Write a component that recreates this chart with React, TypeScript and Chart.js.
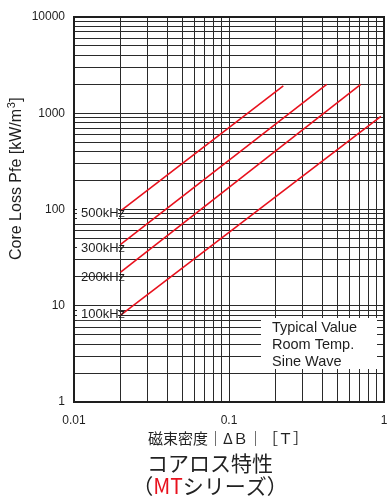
import React, { useEffect, useRef } from "react";
import { Chart, registerables } from "chart.js";

Chart.register(...registerables);

// Core loss curves: start/end points of each frequency line (B in T, Pfe in kW/m3)
const freqLabels = ["500kHz", "300kHz", "200kHz", "100kHz"];
const bStart = [0.02, 0.02, 0.02, 0.02];
const bEnd = [0.224, 0.427, 0.708, 0.955];
const pfeStart = [97, 43.5, 22.3, 8.0];
const pfeEnd = [1920, 2000, 2000, 930];

// Axis tick labels (only decades are labelled)
const xTickLabels = ["0.01", "0.1", "1"];
const yTickLabels = ["1", "10", "100", "1000", "10000"];
const xDecades = [-2, -1];
const yDecades = [0, 1, 2, 3];

const conditionLines = ["Typical Value", "Room Temp.", "Sine Wave"];
const yAxisTitle = "Core Loss Pfe [kW/m";
const xAxisTitle = "磁束密度｜ΔＢ｜［Ｔ］";
const chartTitle = "コアロス特性";
const seriesName = "MT";
const seriesSuffix = "シリーズ";

const RED = "#e8111d";
const INK = "#1e1e1e";
const LATIN = "'Liberation Sans', Arial, sans-serif";
const CJK = "'Noto Sans CJK JP', sans-serif";

// every 1..9 x 10^n value across the given decades, plus the closing decade
function logGrid(decades: number[]) {
  const vals: number[] = [];
  decades.forEach((e) => {
    for (let m = 1; m <= 9; m++) vals.push(parseFloat((m * Math.pow(10, e)).toPrecision(6)));
  });
  const last = decades[decades.length - 1] + 1;
  vals.push(parseFloat(Math.pow(10, last).toPrecision(6)));
  return vals;
}

function labelFor(value: number, labels: string[]) {
  const hit = labels.find((l) => Math.abs(parseFloat(l) - value) < 1e-9 * Math.max(1, value));
  return hit ?? "";
}

// vertical nudge of each frequency label from its curve's start point
const labelOffsetsPx = [3, 4, 5, -1];
const labelHasBackground = [true, true, false, true];

const decorPlugin = {
  id: "decor",
  beforeDatasetsDraw(chart: any) {
    const { ctx, chartArea } = chart;
    const yS = chart.scales.y;
    ctx.save();
    ctx.fillStyle = "#ffffff";
    freqLabels.forEach((_, i) => {
      if (!labelHasBackground[i]) return;
      const cy = yS.getPixelForValue(pfeStart[i]) + labelOffsetsPx[i];
      ctx.fillRect(chartArea.left + 3, cy - 6, 41, 12);
    });
    // conditions box
    ctx.fillRect(261, 318, 116, 51);
    ctx.restore();
  },
  afterDraw(chart: any) {
    const { ctx, chartArea } = chart;
    const yS = chart.scales.y;
    ctx.save();
    // plot frame
    ctx.strokeStyle = INK;
    ctx.lineWidth = 2;
    ctx.strokeRect(chartArea.left, chartArea.top, chartArea.right - chartArea.left, chartArea.bottom - chartArea.top);

    // frequency labels
    ctx.fillStyle = INK;
    ctx.font = `13px ${LATIN}`;
    ctx.textAlign = "left";
    ctx.textBaseline = "middle";
    freqLabels.forEach((t, i) => {
      const cy = yS.getPixelForValue(pfeStart[i]) + labelOffsetsPx[i];
      ctx.fillText(t, chartArea.left + 7, cy);
    });

    // measuring conditions
    ctx.font = `14.5px ${LATIN}`;
    conditionLines.forEach((t, i) => {
      ctx.fillText(t, 272, 328 + i * 17);
    });

    // y axis title with superscript
    ctx.save();
    ctx.translate(17, 260);
    ctx.rotate(-Math.PI / 2);
    ctx.textAlign = "left";
    ctx.textBaseline = "middle";
    ctx.font = `16px ${LATIN}`;
    ctx.fillText(yAxisTitle, 0, 0);
    let x = ctx.measureText(yAxisTitle).width;
    ctx.font = `11px ${LATIN}`;
    ctx.fillText("3", x + 0.5, -5);
    x += ctx.measureText("3").width + 1;
    ctx.font = `16px ${LATIN}`;
    ctx.fillText("]", x, 0);
    ctx.restore();

    // x axis title
    ctx.textAlign = "center";
    ctx.textBaseline = "middle";
    ctx.font = `15px ${CJK}`;
    ctx.fillStyle = "#222";
    ctx.fillText(xAxisTitle, 228, 438);

    // chart title
    ctx.font = `21px ${CJK}`;
    ctx.fillText(chartTitle, 210, 463);

    // series line: （MTシリーズ）
    const parts = [
      { t: "（", c: "#222" },
      { t: seriesName, c: RED },
      { t: seriesSuffix, c: "#222" },
      { t: "）", c: "#222" },
    ];
    const total = parts.reduce((s, p) => s + ctx.measureText(p.t).width, 0);
    let px = 210 - total / 2;
    ctx.textAlign = "left";
    parts.forEach((p) => {
      ctx.fillStyle = p.c;
      ctx.fillText(p.t, px, 486);
      px += ctx.measureText(p.t).width;
    });
    ctx.restore();
  },
};

export default function App() {
  const ref = useRef<HTMLCanvasElement | null>(null);

  useEffect(() => {
    document.body.style.margin = "0";
    const canvas = ref.current!;
    const datasets = freqLabels.map((name, i) => ({
      label: name,
      data: [
        { x: bStart[i], y: pfeStart[i] },
        { x: bEnd[i], y: pfeEnd[i] },
      ],
      borderColor: RED,
      backgroundColor: RED,
      borderWidth: 1.6,
      pointRadius: 0,
      showLine: true,
      fill: false,
    }));

    const chart = new Chart(canvas, {
      type: "scatter",
      data: { datasets },
      plugins: [decorPlugin],
      options: {
        animation: false,
        responsive: false,
        layout: { padding: { left: 0, right: 4, top: 17, bottom: 66 } },
        plugins: { legend: { display: false }, tooltip: { enabled: false } },
        scales: {
          x: {
            type: "logarithmic",
            min: 0.01,
            max: 1,
            afterBuildTicks: (s: any) => {
              s.ticks = logGrid(xDecades).map((v) => ({ value: v }));
            },
            afterFit: (s: any) => {
              s.height = 30;
              s.paddingLeft = 0;
              s.paddingRight = 0;
            },
            grid: { color: "#2a2a2a", lineWidth: 1, drawTicks: false },
            border: { display: false },
            ticks: {
              autoSkip: false,
              maxRotation: 0,
              padding: 11,
              color: INK,
              font: { family: LATIN, size: 12 },
              callback: (v: any) => labelFor(Number(v), xTickLabels),
            },
          },
          y: {
            type: "logarithmic",
            min: 1,
            max: 10000,
            afterBuildTicks: (s: any) => {
              s.ticks = logGrid(yDecades).map((v) => ({ value: v }));
            },
            afterFit: (s: any) => {
              s.width = 74;
              s.paddingTop = 0;
              s.paddingBottom = 0;
            },
            grid: { color: "#2a2a2a", lineWidth: 1, drawTicks: false },
            border: { display: false },
            ticks: {
              autoSkip: false,
              padding: 9,
              color: INK,
              font: { family: LATIN, size: 12 },
              callback: (v: any) => labelFor(Number(v), yTickLabels),
            },
          },
        },
      },
    } as any);
    return () => chart.destroy();
  }, []);

  return (
    <div style={{ width: 388, height: 498, background: "#fff" }}>
      <canvas ref={ref} width={388} height={498} />
    </div>
  );
}
